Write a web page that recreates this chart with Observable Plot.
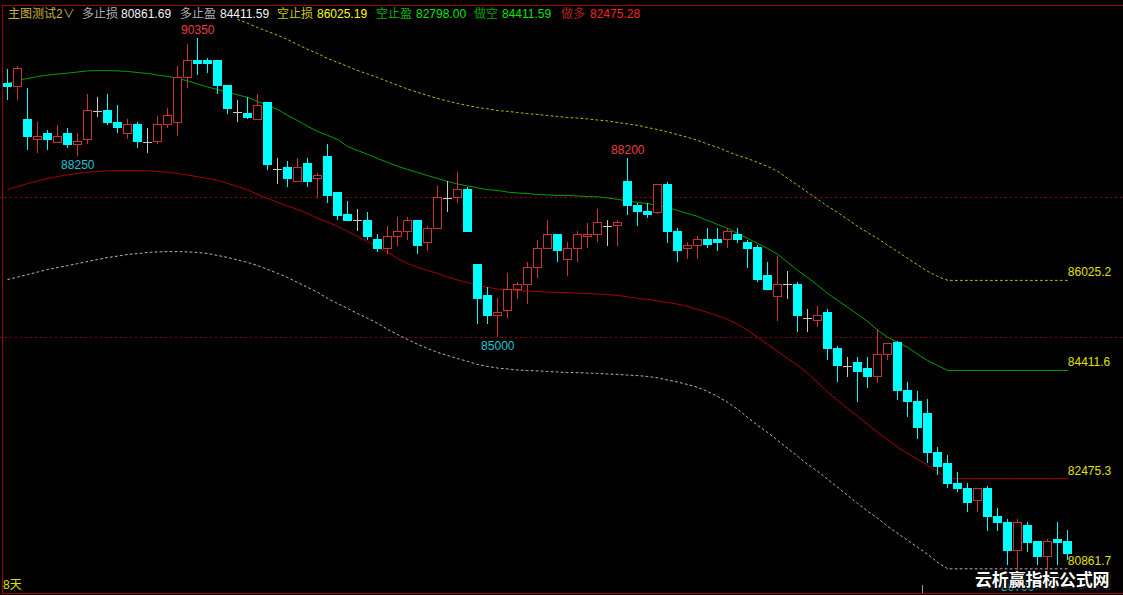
<!DOCTYPE html>
<html><head><meta charset="utf-8">
<script src="https://cdn.jsdelivr.net/npm/d3@7"></script>
<script src="https://cdn.jsdelivr.net/npm/@observablehq/plot@0.6"></script>
<style>
html,body{margin:0;padding:0;background:#000;}
#wrap{position:relative;width:1123px;height:595px;overflow:hidden;background:#000;}
#wrap svg{position:absolute;left:0;top:0;}
#wrap svg rect, #wrap svg line{shape-rendering:crispEdges;}
.hd{position:absolute;top:7px;font-size:12px;line-height:14px;white-space:nowrap;font-family:"Liberation Sans","Noto Sans CJK SC",sans-serif;}
.bd{position:absolute;background:#a00000;}
#wm{position:absolute;left:975px;top:570px;font:bold 17px "Noto Sans CJK SC",sans-serif;color:#fff;white-space:nowrap;line-height:18px;letter-spacing:-0.2px;
  text-shadow:1px 1px 0 #000,-1px -1px 0 #000,1px -1px 0 #000,-1px 1px 0 #000,2px 2px 2px #333;}
#days{position:absolute;left:3px;top:578px;font:12px "Liberation Sans","Noto Sans CJK SC",sans-serif;color:#e0e000;line-height:14px;}
#tick{position:absolute;left:922px;top:585px;width:1px;height:8px;background:#9a9a9a;}
</style></head>
<body><div id="wrap"></div>
<script>
// ---- candle data (bar index 0..106) ----
const open = [89540,89495,88900,88540,88650,88490,88650,88450,88540,89050,
89050,88850,88650,88800,88500,88500,88800,88850,89650,89960,
89960,89960,89500,89035,89005,88900,89205,88005,88040,87780,
88100,87845,88240,87590,87200,87095,87095,86740,86590,86800,
86890,87095,86695,86950,87495,87495,87645,86305,85740,85395,
85485,85845,85945,86245,86590,86845,86395,86590,86800,86845,
86990,86990,87795,87350,87245,87235,87740,86900,86590,86635,
86740,86740,86740,86845,86700,86600,86095,85735,85945,85945,
85350,85295,85445,84800,84485,84550,84440,84290,84695,84900,
84040,83845,83635,82930,82740,82385,82295,82085,82295,81785,
81685,81175,81635,81340,81080,81380,81340];
const high = [89800,89855,89455,88855,88710,88800,88750,88650,89350,89305,
89350,89155,88900,88855,88750,88960,89105,89855,90245,90350,
90005,89960,89500,89245,89295,89350,89205,88200,88155,88200,
88200,87945,88450,87590,87440,87290,87245,86845,86995,87155,
87155,87095,86995,87705,87800,87950,87695,86305,85890,85695,
86140,85990,86350,86740,87095,86845,86700,86900,87050,87295,
87095,87095,88200,87395,87410,87740,87780,86950,86700,86810,
86950,86950,86950,86950,86740,86650,86350,86450,86190,85990,
85500,85560,85500,84845,84645,84645,84650,85140,84890,84935,
84190,84040,83895,83040,82890,82590,82385,82295,82335,81935,
81740,81740,81685,81340,81380,81695,81550];
const low = [89245,89245,88350,88290,88350,88490,88390,88250,88450,88945,
88800,88650,88540,88390,88290,88450,88740,88600,89455,89690,
89730,89360,88990,88845,88900,88900,87990,87735,87695,87780,
87695,87495,87395,87095,87085,86905,86740,86530,86490,86635,
86740,86485,86540,86950,87235,87395,86900,85235,85235,85000,
85335,85685,85595,86055,86590,86340,86095,86340,86590,86700,
86635,86635,87185,86990,87140,87200,86690,86340,86395,86395,
86590,86550,86590,86690,86230,85980,85845,85295,85685,85085,
85085,85185,84590,84190,84290,83835,84085,84185,84590,83875,
83575,83175,82740,82530,82295,82235,81875,81875,81535,81535,
80920,80700,81160,80920,80830,80920,81010];
const close = [89495,89800,88600,88600,88540,88600,88450,88500,89050,89050,
88850,88750,88800,88500,88500,88800,88960,89650,89960,89900,
89900,89500,89095,89035,88935,89145,88095,88005,87845,88040,
87780,87890,87530,87185,87095,87095,86800,86590,86800,86890,
87095,86645,86950,87495,87495,87645,86900,85685,85395,85445,
85855,85945,86245,86590,86845,86550,86590,86845,86845,87055,
86990,87055,87350,87245,87200,87740,86900,86550,86635,86740,
86650,86690,86900,86740,86590,86040,85845,85945,85945,85385,
85350,85395,84790,84485,84485,84390,84290,84695,84890,84040,
83845,83385,82930,82680,82385,82295,82035,82295,81785,81680,
81175,81685,81330,81080,81340,81330,81130];

// ---- indicator lines ----
const zuoKong = [89550,89605,89640,89675,89700,89720,89735,89755,89775,89780,
89780,89775,89765,89745,89730,89700,89675,89640,89595,89540,
89485,89440,89390,89345,89300,89225,89155,89085,88975,88885,
88780,88690,88620,88545,88420,88350,88280,88205,88135,88065,
88010,87955,87900,87850,87795,87750,87715,87680,87650,87635,
87605,87590,87580,87560,87555,87545,87545,87535,87525,87520,
87500,87475,87445,87420,87400,87365,87330,87275,87220,87170,
87095,87025,86955,86865,86775,86685,86595,86490,86345,86200,
86075,85935,85790,85665,85540,85415,85290,85130,85005,84915,
84825,84700,84590,84500,84411.59,84411.59,84411.59,84411.59,84411.59,84411.59,
84411.59,84411.59,84411.59,84411.59,84411.59,84411.59,84411.59];
const zuoDuo = [87650,87705,87760,87805,87850,87885,87915,87940,87960,87975,
87985,87990,87990,87990,87985,87975,87960,87940,87910,87880,
87850,87815,87760,87705,87645,87560,87490,87420,87355,87295,
87220,87135,87070,86990,86900,86810,86720,86630,86525,86415,
86325,86255,86200,86150,86085,86030,85985,85935,85900,85870,
85855,85845,85835,85825,85815,85810,85805,85795,85790,85780,
85770,85755,85730,85700,85685,85655,85630,85600,85560,85505,
85450,85390,85325,85235,85130,85005,84880,84750,84625,84500,
84360,84195,84020,83875,83730,83590,83445,83300,83175,83035,
82925,82820,82710,82605,82475.28,82475.28,82475.28,82475.28,82475.28,82475.28,
82475.28,82475.28,82475.28,82475.28,82475.28,82475.28,82475.28];
const kongStop = [null,null,null,null,null,null,null,null,null,null,
null,null,null,null,null,null,null,null,null,null,
null,null,null,90695,90625,90550,90480,90410,90335,90245,
90160,90085,89995,89925,89855,89780,89720,89655,89585,89515,
89450,89390,89335,89280,89235,89190,89155,89120,89095,89065,
89050,89030,89010,88995,88975,88960,88940,88930,88915,88895,
88880,88850,88825,88800,88760,88725,88680,88635,88585,88530,
88465,88405,88330,88260,88205,88135,88065,87975,87850,87725,
87600,87475,87350,87240,87115,86990,86880,86775,86650,86540,
86415,86300,86185,86095,86025.19,86025.19,86025.19,86025.19,86025.19,86025.19,
86025.19,86025.19,86025.19,86025.19,86025.19,86025.19,86025.19];
const duoStop = [86040,86085,86130,86175,86220,86255,86290,86325,86365,86400,
86435,86460,86490,86505,86525,86535,86540,86540,86535,86525,
86505,86470,86435,86390,86345,86290,86220,86150,86075,85985,
85900,85810,85700,85610,85520,85430,85345,85255,85145,85055,
84965,84880,84805,84735,84680,84625,84575,84520,84485,84455,
84440,84420,84410,84405,84395,84385,84375,84375,84365,84360,
84350,84340,84330,84320,84305,84280,84240,84205,84160,84110,
84035,83945,83840,83715,83570,83425,83300,83160,83015,82875,
82730,82605,82460,82320,82175,82030,81890,81765,81620,81495,
81370,81245,81120,80975,80861.69,80861.69,80861.69,80861.69,80861.69,80861.69,
80861.69,80861.69,80861.69,80861.69,80861.69,80861.69,80861.69];
const gridLevels = [87500, 85000];

// ---- marked extremes ----
const markBars = [19, 62, 7, 49, 101];
const markKinds = ["high", "high", "low", "low", "low"];

// ---- header ----
const headerLabels = ["主图测试2∨","多止损","多止盈","空止损","空止盈","做空","做多"];
const headerValues = [null, 80861.69, 84411.59, 86025.19, 82798.00, 84411.59, 82475.28];

// ================= render =================
const wrap = document.getElementById("wrap");
const bars = open.map((o, i) => ({i, o, h: high[i], l: low[i], c: close[i],
  t: close[i] > o ? "up" : close[i] < o ? "down" : "flat"}));
const candleColor = {up: "#c83434", down: "#00ffff", flat: "#c8c8c8"};
const rows = arr => arr.map((v, i) => ({i, v})).filter(d => d.v != null);
const lastOf = arr => ({i: arr.length - 1, v: arr[arr.length - 1]});
const marks = markBars.map((b, k) => ({i: b, kind: markKinds[k],
  v: markKinds[k] === "high" ? high[b] : low[b]}));
const rightLabels = [kongStop, zuoKong, zuoDuo, duoStop].map(lastOf);

const font = '"Liberation Sans", Arial, sans-serif';
const chart = Plot.plot({
  width: 1123, height: 595, margin: 0,
  x: {type: "linear", domain: [0, 106], range: [7.3, 1067.3], axis: null},
  y: {type: "linear", domain: [80384.5, 91035], range: [595, 0], axis: null},
  color: {type: "identity"},
  style: {background: "#000", fontFamily: font, fontSize: "12px"},
  marks: [
    Plot.ruleY(gridLevels, {y: d => d, stroke: "#8a0000", strokeDasharray: "2,3"}),
    Plot.line(rows(duoStop), {x: "i", y: "v", stroke: "#b4b4b4", strokeWidth: 1, strokeDasharray: "2,3"}),
    Plot.line(rows(kongStop), {x: "i", y: "v", stroke: "#b8b800", strokeWidth: 1, strokeDasharray: "2,3"}),
    Plot.line(rows(zuoDuo), {x: "i", y: "v", stroke: "#a80000", strokeWidth: 1}),
    Plot.line(rows(zuoKong), {x: "i", y: "v", stroke: "#00a000", strokeWidth: 1}),
    Plot.ruleX(bars, {x: "i", y1: "l", y2: "h", stroke: d => candleColor[d.t], strokeWidth: 1}),
    Plot.rect(bars.filter(d => d.t !== "flat"), {
      x1: d => d.i - 0.4, x2: d => d.i + 0.4, y1: "o", y2: "c",
      fill: d => d.t === "down" ? "#00ffff" : "#000",
      stroke: d => candleColor[d.t], strokeWidth: 1}),
    Plot.ruleY(bars.filter(d => d.t === "flat"), {
      y: "o", x1: d => d.i - 0.45, x2: d => d.i + 0.45, stroke: candleColor.flat}),
    Plot.text(marks.filter(d => d.kind === "high"), {x: "i", y: "v", text: d => String(d.v),
      dy: -9, fill: "#e84040", fontSize: 12, fontFamily: font}),
    Plot.text(marks.filter(d => d.kind === "low"), {x: "i", y: "v", text: d => String(d.v),
      dy: 9, fill: "#22c4d6", fontSize: 12, fontFamily: font}),
    Plot.text(rightLabels, {x: "i", y: "v", text: d => d.v.toFixed(1), dy: -8,
      textAnchor: "start", fill: "#e0e000", fontSize: 12, fontFamily: font})
  ]
});
wrap.appendChild(chart);

// frame borders
[[2, 5, 1, 589], [2, 5, 1121, 1], [2, 593, 1121, 1]].forEach(([l, t, w, h]) => {
  const d = document.createElement("div");
  d.className = "bd";
  Object.assign(d.style, {left: l + "px", top: t + "px", width: w + "px", height: h + "px"});
  wrap.appendChild(d);
});

// header
const hdrLayout = [
  {lab: 8, val: null, lc: "#c8b43c", vc: null},
  {lab: 82, val: 121, lc: "#b0b0b0", vc: "#f4f4f4"},
  {lab: 180, val: 220, lc: "#b0b0b0", vc: "#f4f4f4"},
  {lab: 277, val: 317, lc: "#c8c800", vc: "#ffff00"},
  {lab: 376, val: 416, lc: "#00b400", vc: "#00e600"},
  {lab: 474, val: 502, lc: "#00a000", vc: "#00e600"},
  {lab: 561, val: 590, lc: "#b42020", vc: "#ff2020"}
];
headerLabels.forEach((t, k) => {
  const L = hdrLayout[k];
  const s = document.createElement("span");
  s.className = "hd"; s.textContent = t;
  s.style.left = L.lab + "px"; s.style.color = L.lc;
  wrap.appendChild(s);
  if (headerValues[k] != null) {
    const v = document.createElement("span");
    v.className = "hd"; v.textContent = headerValues[k].toFixed(2);
    v.style.left = L.val + "px"; v.style.color = L.vc;
    wrap.appendChild(v);
  }
});

const days = document.createElement("div");
days.id = "days"; days.textContent = "8天"; wrap.appendChild(days);
const tick = document.createElement("div");
tick.id = "tick"; wrap.appendChild(tick);
const wm = document.createElement("div");
wm.id = "wm"; wm.textContent = "云析赢指标公式网"; wrap.appendChild(wm);
</script>
</body></html>
